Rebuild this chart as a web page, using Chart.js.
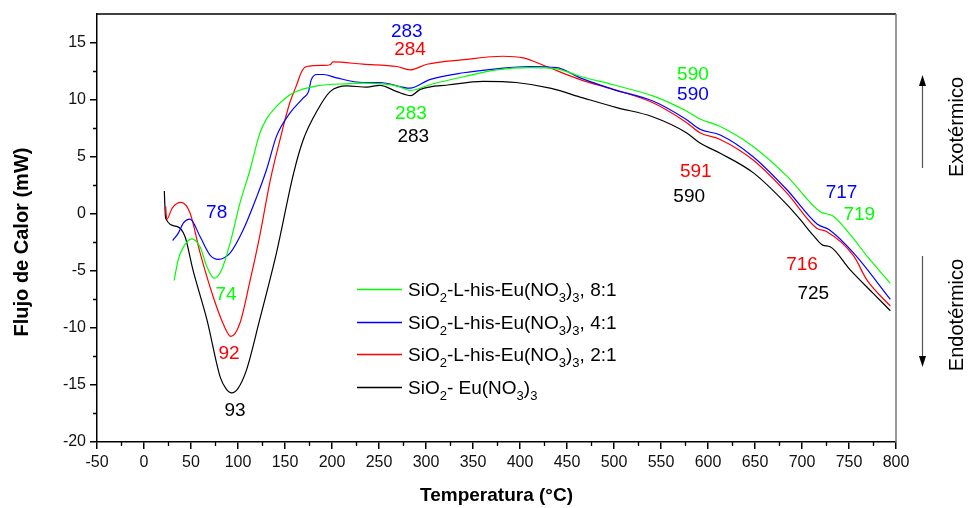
<!DOCTYPE html>
<html>
<head>
<meta charset="utf-8">
<script src="https://cdn.jsdelivr.net/npm/chart.js@4.4.1/dist/chart.umd.min.js"></script>
<style>
  body { margin: 0; background: #fff; }
  #wrap { width: 970px; height: 508px; position: relative; }
</style>
</head>
<body>
<div id="wrap"><canvas id="myChart"></canvas></div>
<script>
'use strict';

// series: temperature (°C) and heat flow (mW)
var greenT = [32, 36.5, 42, 50.7, 59.6, 66.7, 74.5, 82.6, 91.5, 102, 113, 123, 131, 141, 150, 159, 184, 219, 233, 269, 283, 304, 340, 375, 410.6, 439, 464, 499, 542, 577, 591.5, 613, 648, 684, 719, 733, 752, 769, 794];
var greenV = [-5.85, -4, -2.9, -2.2, -2.9, -4.6, -5.65, -4.9, -2.6, 0.9, 3.9, 7.0, 8.4, 9.4, 10.1, 10.6, 11.2, 11.4, 11.45, 11.2, 10.8, 11.3, 12, 12.6, 12.8, 12.7, 12.05, 11.3, 10.3, 9, 8.3, 7.65, 5.9, 3.3, 0.2, -0.2, -1.9, -3.7, -6.1];

var blueT = [30.5, 36.5, 42, 49, 59.6, 70, 79, 91.5, 105.6, 120, 130.5, 141, 155, 169.5, 175, 178, 184, 191, 205, 233, 251, 283, 304, 340, 375, 410.6, 439, 464, 499, 542, 577, 591.5, 613, 648, 684, 716, 729, 755, 794];
var blueV = [-2.35, -1.7, -0.8, -0.47, -2, -3.6, -4, -3.45, -1.4, 1.5, 3.9, 6.8, 8.8, 10.15, 10.7, 11.75, 12.2, 12.2, 11.9, 11.5, 11.5, 11, 11.75, 12.35, 12.7, 12.9, 12.8, 11.9, 10.9, 9.85, 8.25, 7.4, 6.9, 5, 2.1, -0.9, -1.4, -3.45, -7.5];

var redT = [23, 24.2, 30, 39.5, 49, 59.6, 73.7, 84, 92.5, 102, 113, 123, 134, 144.7, 155, 162, 168, 173, 191, 198, 201, 233, 269, 283, 301, 340, 382, 403.5, 428, 464, 499, 542, 577, 591.5, 613, 648, 684, 716, 726, 755, 769, 794];
var redV = [0.65, -0.5, 0.5, 1, 0.06, -3.4, -7.3, -9.6, -10.75, -9.6, -5.8, -2, 2.8, 6.5, 9.7, 11.2, 12.5, 12.9, 13, 13.05, 13.3, 13.1, 12.9, 12.6, 13.1, 13.5, 13.8, 13.65, 12.9, 11.75, 10.9, 9.7, 8, 7.1, 6.5, 4.7, 1.8, -1.3, -1.55, -3.7, -5.8, -8.1];

var blackT = [21.6, 23, 34.7, 43.6, 52, 67, 81, 87, 93.3, 100, 109, 123, 141, 159, 169.5, 184, 198, 216, 237, 251, 269, 284, 294, 325, 361, 396, 432, 467, 503, 541, 577, 591.5, 613, 648, 684, 698, 712, 722, 730, 751, 776, 794];
var blackV = [2, -0.4, -1.1, -2, -4.9, -9.3, -14.3, -15.3, -15.7, -15.3, -13.7, -9.3, -3.4, 3.5, 6.5, 9, 10.7, 11.2, 11.1, 11.25, 10.7, 10.35, 10.9, 11.3, 11.6, 11.5, 11, 10.15, 9.3, 8.5, 7.1, 6.2, 5.3, 3.6, 0.8, -0.5, -1.9, -2.75, -2.9, -4.9, -7, -8.5];

// legend labels, "_x" = subscript x
var seriesNames = [
  'SiO_2-L-his-Eu(NO_3)_3, 8:1',
  'SiO_2-L-his-Eu(NO_3)_3, 4:1',
  'SiO_2-L-his-Eu(NO_3)_3, 2:1',
  'SiO_2- Eu(NO_3)_3'
];
var seriesColors = ['#00ff00', '#0000ff', '#ff0000', '#000000'];

// peak temperature labels [text, temp, heat flow, series index]
var peakLabels = [
  ['78', 77.3, 0.06, 1],
  ['74', 87.2, -7.1, 0],
  ['92', 90.4, -12.3, 2],
  ['93', 96.8, -17.3, 3],
  ['283', 279.5, 15.95, 1],
  ['284', 283, 14.35, 2],
  ['283', 284, 8.8, 0],
  ['283', 286.5, 6.75, 3],
  ['590', 584, 12.15, 0],
  ['590', 584, 10.4, 1],
  ['591', 587, 3.7, 2],
  ['590', 580, 1.5, 3],
  ['717', 742, 1.85, 1],
  ['719', 761, -0.05, 0],
  ['716', 700, -4.5, 2],
  ['725', 712, -7.0, 3]
];

var xTicks = { min: -50, max: 800, step: 50 };
var yTicks = { min: -20, max: 17.5, step: 5 };

var FONT = "'Liberation Sans', Arial, sans-serif";
Chart.defaults.font.family = FONT;
Chart.defaults.color = '#000';

function toPoints(t, v) {
  var pts = [];
  for (var i = 0; i < t.length; i++) {
    pts.push({ x: t[i], y: v[i] });
  }
  return pts;
}

function makeSet(t, v, color) {
  return {
    data: toPoints(t, v),
    borderColor: color,
    backgroundColor: color,
    borderWidth: 1.2,
    pointRadius: 0,
    showLine: true,
    cubicInterpolationMode: 'monotone'
  };
}

// text with "_x" subscripts
function drawRich(ctx, str, x, y, size) {
  var i = 0;
  while (i < str.length) {
    var ch = str[i];
    if (ch === '_') {
      ctx.font = Math.round(size * 0.68) + 'px ' + FONT;
      ctx.fillText(str[i + 1], x, y + size * 0.3);
      x += ctx.measureText(str[i + 1]).width;
      i += 2;
    } else {
      ctx.font = size + 'px ' + FONT;
      ctx.fillText(ch, x, y);
      x += ctx.measureText(ch).width;
      i++;
    }
  }
  return x;
}

function arrow(ctx, x, y1, y2) {
  // line from y1, head at y2
  var dir = y2 > y1 ? 1 : -1;
  ctx.strokeStyle = '#555';
  ctx.lineWidth = 1.2;
  ctx.beginPath();
  ctx.moveTo(x, y1);
  ctx.lineTo(x, y2 - dir * 8);
  ctx.stroke();
  ctx.fillStyle = '#000';
  ctx.beginPath();
  ctx.moveTo(x, y2);
  ctx.lineTo(x - 3.5, y2 - dir * 11);
  ctx.lineTo(x + 3.5, y2 - dir * 11);
  ctx.closePath();
  ctx.fill();
}

var decorations = {
  id: 'decorations',
  afterDraw: function (chart) {
    var ctx = chart.ctx;
    var a = chart.chartArea;
    var xs = chart.scales.x;
    var ys = chart.scales.y;
    ctx.save();

    // frame top + right
    ctx.lineWidth = 1.5;
    ctx.strokeStyle = '#000';
    ctx.beginPath();
    ctx.moveTo(a.left, a.top);
    ctx.lineTo(a.right, a.top);
    ctx.stroke();
    ctx.strokeStyle = '#777';
    ctx.beginPath();
    ctx.moveTo(a.right, a.top);
    ctx.lineTo(a.right, a.bottom);
    ctx.stroke();

    // minor ticks
    ctx.strokeStyle = '#000';
    ctx.lineWidth = 1.3;
    ctx.beginPath();
    for (var v = xTicks.min + xTicks.step / 2; v < xTicks.max; v += xTicks.step) {
      var px = Math.round(xs.getPixelForValue(v)) + 0.5;
      ctx.moveTo(px, a.bottom);
      ctx.lineTo(px, a.bottom + 4);
    }
    for (var w = yTicks.min + yTicks.step / 2; w < yTicks.max; w += yTicks.step) {
      var py = Math.round(ys.getPixelForValue(w)) + 0.5;
      ctx.moveTo(a.left, py);
      ctx.lineTo(a.left - 4, py);
    }
    ctx.stroke();

    // peak labels
    ctx.textAlign = 'center';
    ctx.textBaseline = 'middle';
    ctx.font = '19px ' + FONT;
    peakLabels.forEach(function (p) {
      ctx.fillStyle = seriesColors[p[3]];
      ctx.fillText(p[0], xs.getPixelForValue(p[1]), ys.getPixelForValue(p[2]));
    });

    // legend
    var rows = [289, 322, 354, 387];
    ctx.textAlign = 'left';
    ctx.textBaseline = 'alphabetic';
    seriesNames.forEach(function (name, i) {
      ctx.strokeStyle = seriesColors[i];
      ctx.lineWidth = 1.3;
      ctx.beginPath();
      ctx.moveTo(357, rows[i] + 0.5);
      ctx.lineTo(402, rows[i] + 0.5);
      ctx.stroke();
      ctx.fillStyle = '#000';
      drawRich(ctx, name, 408, rows[i] + 7, 19);
    });

    // axis titles
    ctx.fillStyle = '#000';
    ctx.textAlign = 'center';
    ctx.textBaseline = 'middle';
    ctx.font = 'bold 19px ' + FONT;
    ctx.fillText('Temperatura (°C)', (a.left + a.right) / 2, 496);
    ctx.save();
    ctx.translate(22, 242);
    ctx.rotate(-Math.PI / 2);
    ctx.font = 'bold 20px ' + FONT;
    ctx.fillText('Flujo de Calor (mW)', 0, 0);
    ctx.restore();

    // exo / endo markers
    arrow(ctx, 922.5, 168, 75);
    arrow(ctx, 922.5, 256, 367);
    ctx.font = '20px ' + FONT;
    ctx.save();
    ctx.translate(957, 127);
    ctx.rotate(-Math.PI / 2);
    ctx.fillText('Exotérmico', 0, 0);
    ctx.restore();
    ctx.save();
    ctx.translate(957, 315);
    ctx.rotate(-Math.PI / 2);
    ctx.fillText('Endotérmico', 0, 0);
    ctx.restore();

    ctx.restore();
  }
};

var canavas = document.getElementById('myChart').getContext('2d');

var chart = new Chart(canavas, {
  type: 'scatter',
  data: {
    datasets: [
      makeSet(greenT, greenV, seriesColors[0]),
      makeSet(blueT, blueV, seriesColors[1]),
      makeSet(redT, redV, seriesColors[2]),
      makeSet(blackT, blackV, seriesColors[3])
    ]
  },
  options: {
    responsive: true,
    maintainAspectRatio: false,
    animation: false,
    layout: { padding: { top: 14, right: 74, left: 0, bottom: 0 } },
    plugins: { legend: { display: false }, tooltip: { enabled: false } },
    scales: {
      x: {
        type: 'linear',
        min: xTicks.min,
        max: xTicks.max,
        afterFit: function (s) { s.height = 66; },
        ticks: { stepSize: xTicks.step, font: { size: 16 }, color: '#111', padding: 4, maxRotation: 0 },
        grid: { drawOnChartArea: false, drawTicks: true, tickLength: 7, color: '#000', lineWidth: 1.5 },
        border: { color: '#000', width: 1.5 }
      },
      y: {
        type: 'linear',
        min: yTicks.min,
        max: yTicks.max,
        afterFit: function (s) { s.width = 97; },
        ticks: { stepSize: yTicks.step, includeBounds: false, font: { size: 16 }, color: '#111', padding: 4 },
        grid: { drawOnChartArea: false, drawTicks: true, tickLength: 7, color: '#000', lineWidth: 1.5 },
        border: { color: '#000', width: 1.5 }
      }
    }
  },
  plugins: [decorations]
});
</script>
</body>
</html>
